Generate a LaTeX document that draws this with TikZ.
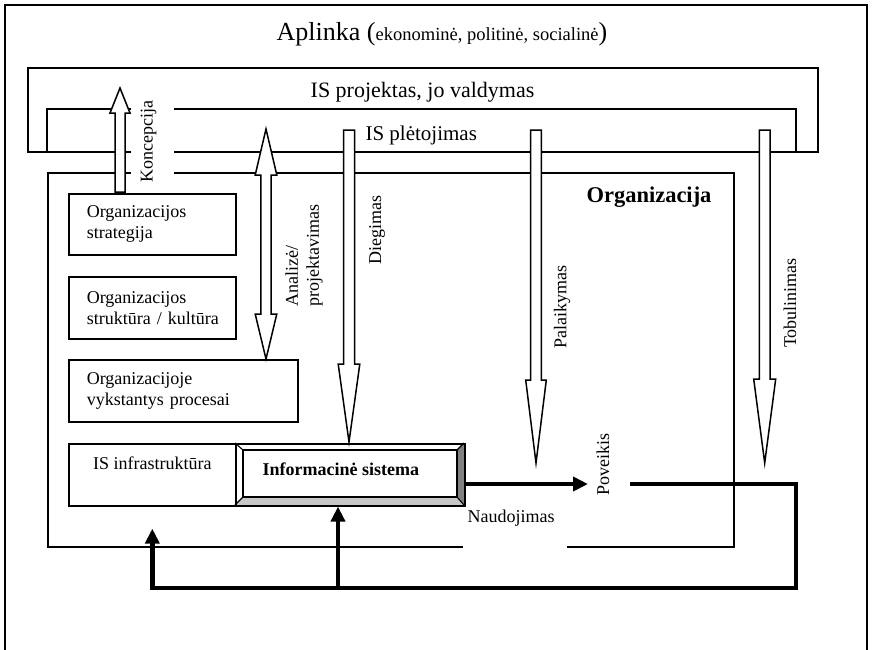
\documentclass[tikz,border=0pt]{standalone}
\usepackage{fontspec}
\setmainfont{Liberation Serif}
\usetikzlibrary{arrows.meta,calc}
\newcommand{\fsz}[1]{\fontsize{#1}{#1}\selectfont}
\newcommand{\dnArrow}[6]{\draw[blockarrow] ({#1-#2},#4) -- ({#1+#2},#4) -- ({#1+#2},#5) -- ({#1+#3},#5) -- (#1,#6) -- ({#1-#3},#5) -- ({#1-#2},#5) -- cycle;}
\begin{document}
\begin{tikzpicture}[x=1pt,y=-1pt,
  frameline/.style={line width=1.6pt},
  boxline/.style={draw,line width=1.6pt},
  plainbox/.style={boxline,anchor=north west,inner sep=0pt},
  txtbox/.style={boxline,anchor=north west,align=left,inner xsep=18pt,inner ysep=0pt,
     font=\fontsize{18}{21}\selectfont},
  vlabel/.style={rotate=90,font=\fontsize{18}{21}\selectfont,inner sep=1pt},
  blockarrow/.style={draw,fill=white,line width=1.5pt,line join=miter},
  fbline/.style={line width=4.5pt,line join=miter},
  fbarrow/.style={fbline,-{Triangle[length=15pt,width=14pt]}},
]
\useasboundingbox (0,0) rectangle (872,649);
% outer frame
\draw[frameline] (5,5) rectangle (867,660);
\node[anchor=base] (aplinka) at (442,40) {\fsz{26}Aplinka (\fsz{18.5}ekonominė, politinė, socialinė\fsz{26})};
% IS projektas box
\node[plainbox,minimum width=790,minimum height=84] (proj) at (27,67) {};
\node[anchor=base,font=\fsz{22}] (projt) at (422.5,97) {IS projektas, jo valdymas};
% IS pletojimas
\draw[line width=1.6pt] (47,151) -- (47,109) -- (796,109) -- (796,151);
\node[anchor=base west,font=\fsz{21}] (plet) at (362,140) {IS plėtojimas};
% Organizacija
\node[plainbox,minimum width=686,minimum height=374] (org) at (47,172) {};
\node[anchor=base east,font=\bfseries\fsz{22.5}] (orgt) at (715,202) {Organizacija};
\fill[white] (463,541) rectangle (567,552);
% inner boxes
\node[txtbox,text width=131,minimum height=61] (strat) at (68,193) {Organizacijos\\strategija};
\node[txtbox,text width=131,minimum height=62] (strukt) at (68,276) {Organizacijos\\\mbox{struktūra / kultūra}};
\node[txtbox,text width=193,minimum height=62] (proc) at (68,359) {Organizacijoje\\vykstantys procesai};
\node[boxline,anchor=north west,minimum width=167,inner ysep=0pt,text height=26pt,text depth=36pt,font=\fsz{18}] (infra) at (68,443) {IS infrastruktūra};
% Informacine sistema (bevelled)
\fill[black!50] (464,443) -- (464,505) -- (457,497) -- (457,450) -- cycle;
\fill[black!22] (235,505) -- (464,505) -- (457,497) -- (243,497) -- cycle;
\node[plainbox,minimum width=229,minimum height=62] (is) at (235,443) {};
\draw[line width=1.3pt] (243,450) rectangle (457,497);
\draw[line width=1.1pt] (235,443) -- (243,450) (464,443) -- (457,450) (235,505) -- (243,497) (464,505) -- (457,497);
\node[anchor=base west,font=\bfseries\fsz{18}] (ist) at (259,475) {Informacinė sistema};
% label with white background (breaks lines)
\node[vlabel,fill=white,inner xsep=2pt,inner ysep=9pt,text height=12.5pt,text depth=12.5pt,anchor=base] (konc) at (152.5,141.5) {Koncepcija};
% block arrows
\dnArrow{120}{5}{10}{192}{113}{88}
\draw[blockarrow] (266,129) -- (276.8,175) -- (271.2,175) -- (271.2,314) -- (276.8,314) -- (266,359) -- (255.2,314) -- (260.8,314) -- (260.8,175) -- (255.2,175) -- cycle;
\dnArrow{349}{5.5}{10.8}{130}{364}{442}
\dnArrow{536}{5.3}{10.3}{130}{380}{463}
\dnArrow{764.7}{5.3}{11}{130}{379}{463}
% rotated labels
\node[vlabel,align=left] (anal) at (304,255.5) {Analizė/\\projektavimas};
\node[vlabel] (dieg) at (377,230) {Diegimas};
\node[vlabel] (pal) at (562,307) {Palaikymas};
\node[vlabel] (tob) at (790,303) {Tobulinimas};
\node[vlabel] (pov) at (603,464) {Poveikis};
\node[font=\fsz{18}] (naud) at (511,518) {Naudojimas};
% thick feedback connectors
\coordinate (pvtip) at (588,484);
\draw[fbarrow] (is.east |- pvtip) -- (pvtip);
\coordinate (fbA) at (630,484);
\coordinate (fbB) at (796,588);
\coordinate (infratip) at ($(infra.south)+(0,22)$);
\coordinate (fbC) at (infratip |- fbB);
\draw[fbarrow] (fbA) -- (fbA -| fbB) -- (fbB) -- (fbC) -- (infratip);
\coordinate (br) at (338,588);
\draw[fbarrow] (br) -- (br |- is.south);
\end{tikzpicture}
\end{document}
